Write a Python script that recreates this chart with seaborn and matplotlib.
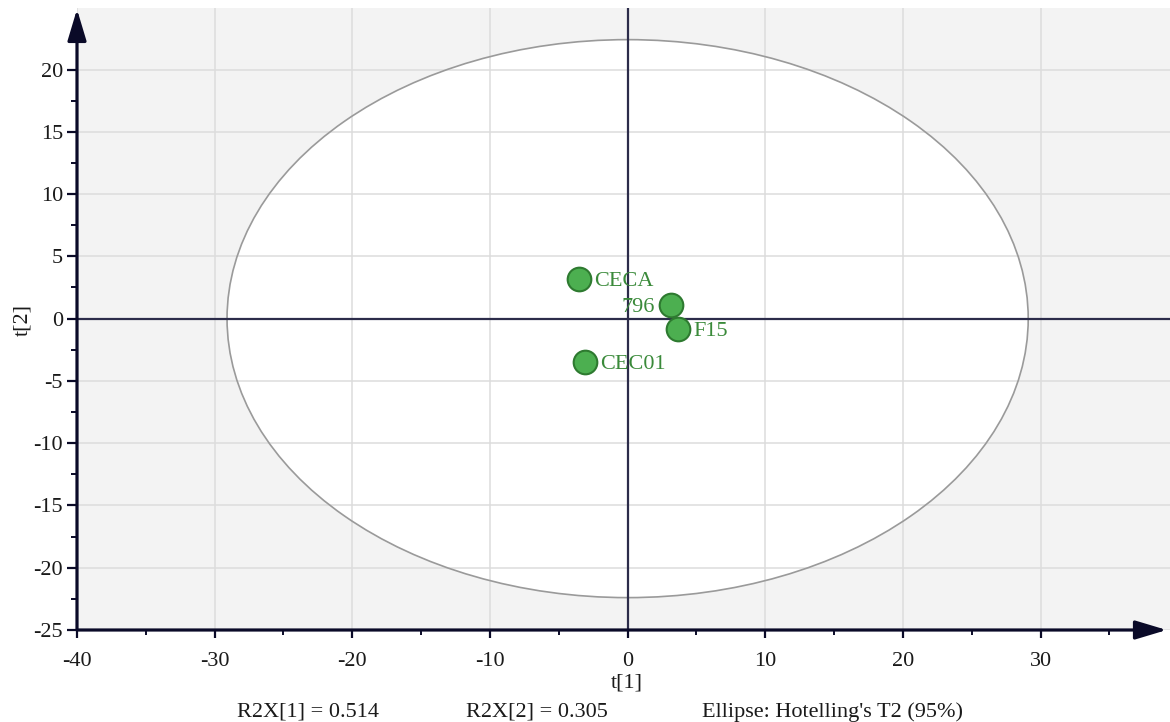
import matplotlib
matplotlib.use("Agg")
import matplotlib.pyplot as plt
from matplotlib.patches import Ellipse
from matplotlib.ticker import MultipleLocator
import seaborn as sns
import pandas as pd

# ---- data ----
labels = ["CECA", "796", "F15", "CEC01"]
t1 = [-3.52, 3.12, 3.65, -3.12]
t2 = [3.22, 1.13, -0.86, -3.45]
ellipse_a = 29.1   # Hotelling's T2 (95%) semi-axis on t[1]
ellipse_b = 22.4   # semi-axis on t[2]
r2x = [0.514, 0.305]
xticks = [-40, -30, -20, -10, 0, 10, 20, 30]
yticks = [-25, -20, -15, -10, -5, 0, 5, 10, 15, 20]

df = pd.DataFrame({"t1": t1, "t2": t2, "label": labels})

sns.set_style("white")
plt.rcParams["font.family"] = ["Liberation Serif", "DejaVu Serif"]
plt.rcParams["axes.unicode_minus"] = False

fig = plt.figure(figsize=(11.7, 7.22), dpi=100)
ax = fig.add_axes([77 / 1170, 1 - 630 / 722, 1093 / 1170, 622 / 722])
ax.set_facecolor("#f3f3f3")

ax.set_xlim(-40, 39.4)
ax.set_ylim(-25, 24.94)

# ellipse fill (white) below grid
ax.add_patch(Ellipse((0, 0), 2 * ellipse_a, 2 * ellipse_b, facecolor="white",
                     edgecolor="none", zorder=0.2))
ax.set_axisbelow(True)
ax.xaxis.set_major_locator(MultipleLocator(10))
ax.xaxis.set_minor_locator(MultipleLocator(5))
ax.yaxis.set_major_locator(MultipleLocator(5))
ax.yaxis.set_minor_locator(MultipleLocator(2.5))
ax.grid(True, which="major", color="#dcdcdc", lw=1.1, zorder=0.5)

# ellipse outline
ax.add_patch(Ellipse((0, 0), 2 * ellipse_a, 2 * ellipse_b, facecolor="none",
                     edgecolor="#9a9a9a", lw=1.2, zorder=2))

# zero lines
ax.axhline(0, color="#2c2c4a", lw=1.6, zorder=3)
ax.axvline(0, color="#2c2c4a", lw=1.6, zorder=3)

# points
sns.scatterplot(data=df, x="t1", y="t2", ax=ax, s=290, color="#4caf50",
                edgecolor="#2e7a30", linewidth=1.5, zorder=5, legend=False)
for lab, x, y in zip(labels, t1, t2):
    if lab == "796":
        off, ha = (-11, 0), "right"
    else:
        off, ha = (11, 0), "left"
    ax.annotate(lab, (x, y), xytext=off, textcoords="offset points",
                ha=ha, va="center_baseline", fontsize=16, color="#3a8a3a", zorder=6)

# spines -> arrows
for s in ax.spines.values():
    s.set_visible(False)
arrow_kw = dict(arrowstyle="-|>,head_length=0.8,head_width=0.24",
                lw=2.3, color="#0a0a28", mutation_scale=24,
                shrinkA=0, shrinkB=0)
ax.annotate("", xy=(0, 0.998), xytext=(0, 0), xycoords="axes fraction",
            arrowprops=arrow_kw, zorder=7)
ax.annotate("", xy=(0.997, 0), xytext=(0, 0), xycoords="axes fraction",
            arrowprops=arrow_kw, zorder=7)

ax.set_xticks(xticks)
ax.set_yticks(yticks)
ax.set_xticklabels([str(v) for v in xticks])
ax.set_yticklabels([str(v) for v in yticks])
ax.tick_params(axis="x", which="major", direction="out", length=6, width=1.6,
               color="#0a0a28", labelsize=16, labelcolor="#1a1a1a", pad=10)
ax.tick_params(axis="x", which="minor", direction="out", length=3.5, width=1.4,
               color="#0a0a28")
ax.tick_params(axis="y", which="major", direction="out", length=7, width=1.6,
               color="#0a0a28", labelsize=16, labelcolor="#1a1a1a", pad=3)
ax.tick_params(axis="y", which="minor", direction="out", length=4, width=1.4,
               color="#0a0a28")
ax.tick_params(bottom=True, left=True, which="both")

ax.set_xlabel("t[1]", fontsize=16, color="#1a1a1a")
ax.set_ylabel("t[2]", fontsize=16, color="#1a1a1a")
ax.xaxis.set_label_coords(0.503, -0.070)
ax.yaxis.set_label_coords(-0.041, 0.498)

fig.text(308 / 1170, 1 - 712 / 722, f"R2X[1] = {r2x[0]}", ha="center", va="center",
         fontsize=16, color="#1a1a1a")
fig.text(537 / 1170, 1 - 712 / 722, f"R2X[2] = {r2x[1]}", ha="center", va="center",
         fontsize=16, color="#1a1a1a")
fig.text(832 / 1170, 1 - 712 / 722, "Ellipse: Hotelling's T2 (95%)", ha="center",
         va="center", fontsize=16, color="#1a1a1a")

fig.savefig("out.png", dpi=100, facecolor="white")
